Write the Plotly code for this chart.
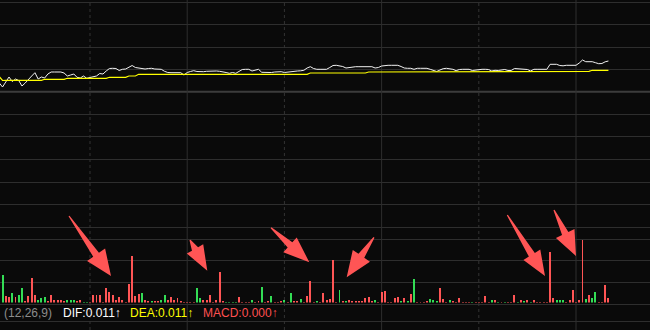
import plotly.graph_objects as go

W, H = 650, 330
PX_PER_MIN = 3.24
X_START = 2.22

# ---------------- data ----------------
price_start = 2
price = [
    10.087, 10.047, 10.097, 10.147, 10.102, 10.127, 10.112, 10.057,
    10.087, 10.127, 10.157, 10.190, 10.127, 10.147, 10.137, 10.177, 10.197, 10.197,
    10.200, 10.197, 10.187, 10.157, 10.167, 10.177, 10.144, 10.137, 10.157, 10.134,
    10.142, 10.147, 10.157, 10.182, 10.177, 10.207, 10.232, 10.234, 10.232, 10.212,
    10.224, 10.227, 10.242, 10.262, 10.242, 10.237, 10.232, 10.227, 10.232, 10.234,
    10.227, 10.224, 10.224, 10.204, 10.192, 10.190, 10.190, 10.190, 10.190, 10.167,
    10.192, 10.202, 10.210, 10.202, 10.200, 10.200, 10.204, 10.207, 10.207, 10.207,
    10.204, 10.200, 10.192, 10.184, 10.192, 10.184, 10.202, 10.222, 10.224, 10.224,
    10.207, 10.217, 10.224, 10.194, 10.192, 10.190, 10.192, 10.197, 10.200, 10.200,
    10.192, 10.197, 10.202, 10.207, 10.207, 10.209, 10.214, 10.237, 10.250, 10.232,
    10.224, 10.224, 10.224, 10.224, 10.242, 10.262, 10.264, 10.259, 10.252, 10.237,
    10.242, 10.250, 10.250, 10.250, 10.250, 10.250, 10.250, 10.250, 10.237, 10.242,
    10.257, 10.262, 10.264, 10.264, 10.264, 10.264, 10.252, 10.237, 10.234, 10.234,
    10.224, 10.234, 10.234, 10.234, 10.234, 10.224, 10.212, 10.202, 10.217, 10.230,
    10.234, 10.230, 10.224, 10.210, 10.222, 10.224, 10.224, 10.224, 10.212, 10.217,
    10.224, 10.224, 10.224, 10.222, 10.207, 10.214, 10.212, 10.217, 10.222, 10.212,
    10.212, 10.232, 10.230, 10.227, 10.227, 10.222, 10.207, 10.224, 10.224, 10.224,
    10.224, 10.224, 10.274, 10.274, 10.274, 10.262, 10.259, 10.264, 10.264, 10.264,
    10.264, 10.287, 10.317, 10.300, 10.300, 10.300, 10.290, 10.280, 10.282, 10.299,
    10.307,
]
avg_price = [
    10.150, 10.112, 10.114, 10.114, 10.114, 10.114, 10.114, 10.114,
    10.114, 10.114, 10.114, 10.114, 10.114, 10.114, 10.124, 10.124, 10.124, 10.124,
    10.124, 10.124, 10.124, 10.134, 10.134, 10.134, 10.134, 10.134, 10.134, 10.134,
    10.134, 10.134, 10.134, 10.134, 10.134, 10.134, 10.144, 10.144, 10.144, 10.144,
    10.144, 10.144, 10.157, 10.157, 10.157, 10.174, 10.174, 10.174, 10.174, 10.174,
    10.174, 10.174, 10.174, 10.174, 10.174, 10.174, 10.174, 10.174, 10.174, 10.174,
    10.174, 10.174, 10.174, 10.174, 10.174, 10.174, 10.174, 10.174, 10.174, 10.174,
    10.174, 10.174, 10.174, 10.174, 10.174, 10.174, 10.174, 10.174, 10.174, 10.174,
    10.174, 10.174, 10.174, 10.174, 10.174, 10.174, 10.174, 10.174, 10.174, 10.174,
    10.174, 10.174, 10.174, 10.174, 10.174, 10.174, 10.174, 10.174, 10.187, 10.187,
    10.187, 10.187, 10.187, 10.187, 10.187, 10.187, 10.187, 10.187, 10.187, 10.187,
    10.187, 10.187, 10.187, 10.187, 10.187, 10.187, 10.197, 10.197, 10.197, 10.197,
    10.197, 10.197, 10.197, 10.197, 10.197, 10.197, 10.197, 10.197, 10.197, 10.197,
    10.197, 10.197, 10.197, 10.197, 10.197, 10.197, 10.197, 10.197, 10.197, 10.197,
    10.197, 10.197, 10.197, 10.197, 10.197, 10.197, 10.197, 10.197, 10.197, 10.197,
    10.197, 10.197, 10.197, 10.197, 10.197, 10.197, 10.197, 10.197, 10.197, 10.197,
    10.197, 10.197, 10.197, 10.197, 10.197, 10.197, 10.197, 10.197, 10.197, 10.197,
    10.197, 10.197, 10.204, 10.204, 10.204, 10.204, 10.204, 10.204, 10.204, 10.204,
    10.204, 10.204, 10.204, 10.204, 10.204, 10.214, 10.214, 10.214, 10.214, 10.214,
    10.214,
]
prev_close = 10.000

vol_start = 3
volume = [
    2830, 730, 630, 970, 570, 800, 1530,
    130, 730, 2470, 800, 300, 470, 600, 230, 800, 330,
    330, 330, 130, 330, 330, 330, 130, 330, 70, 70,
    70, 800, 800, 800, 100, 1470, 1100, 770, 270, 600,
    270, 100, 1870, 4670, 670, 870, 1000, 270, 200, 200,
    200, 200, 270, 770, 270, 600, 270, 500, 200, 100,
    100, 100, 100, 1470, 500, 270, 270, 770, 100, 270,
    3070, 170, 70, 70, 70, 70, 630, 70, 70, 70,
    330, 70, 170, 1630, 70, 230, 730, 70, 70, 230,
    330, 70, 970, 170, 230, 430, 70, 730, 2170, 70,
    130, 70, 1030, 330, 430, 4330, 70, 1330, 170, 230,
    330, 230, 230, 170, 130, 500, 570, 230, 300, 70,
    1070, 1170, 70, 70, 500, 630, 230, 470, 230, 900,
    2430, 70, 70, 70, 230, 430, 330, 200, 1530, 370,
    70, 270, 170, 100, 470, 100, 100, 100, 100, 100,
    100, 70, 670, 100, 330, 330, 100, 100, 100, 100,
    100, 770, 100, 270, 170, 330, 100, 330, 100, 100,
    100, 100, 5100, 500, 270, 270, 330, 100, 330, 1330,
    100, 330, 6270, 370, 770, 470, 1100, 100, 50, 1770,
    500,
]
vol_dir = list(
    "GRRGRGG"
    "RRRRGGGRRR"
    "RRRGGGRRGG"
    "RRRRRRRRRR"
    "RRRRRRGRRG"
    "RRGGRRRRRR"
    "RRRGGRRRRR"
    "RRGGGGRRRR"
    "GRRGRRGRRR"
    "GRGRRGRRRR"
    "GRRRRRRGRG"
    "RRRRRRRRGR"
    "RRRRRRGRGR"
    "GRRRRGGGRR"
    "RGRRRRRRGR"
    "RRRRGRGRGR"
    "RRGRGRGRRR"
    "RRRRGGGRRR"
    "RRRGRGGRRR"
    "R"
)
half_hour_marks = [30, 60, 90, 120, 150, 180]
label_texts = ["(12,26,9)", "DIF:0.011\u2191", "DEA:0.011\u2191", "MACD:0.000\u2191"]

# ---------------- styles ----------------
BG = "#0a0a0a"
GRID = "#2e2e2e"
RED = "#ff5555"
GREEN = "#33dd55"
ARROW = "#ff5555"

price_x = list(range(price_start, price_start + len(price)))
vol_x = list(range(vol_start, vol_start + len(volume)))
vol_colors = [RED if d == "R" else GREEN for d in vol_dir]


def py(p):
    return 1 - p / H


def px(p):
    return p / W


fig = go.Figure()
fig.add_trace(go.Scatter(x=price_x, y=price, mode="lines",
                         line=dict(color="#f2f2f2", width=1), xaxis="x", yaxis="y",
                         hoverinfo="skip"))
fig.add_trace(go.Scatter(x=price_x, y=avg_price, mode="lines",
                         line=dict(color="#ffff00", width=1.2), xaxis="x", yaxis="y",
                         hoverinfo="skip"))
fig.add_trace(go.Bar(x=vol_x, y=volume, width=0.3,
                     marker=dict(color=vol_colors, line=dict(width=0)),
                     xaxis="x2", yaxis="y2", hoverinfo="skip"))

x_range = [X_START, X_START + W / PX_PER_MIN]
axis_off = dict(showgrid=False, zeroline=False, showticklabels=False,
                showline=False, ticks="")

shapes = []
# horizontal grid
for row in [2.5, 24.5, 47.5, 69.5, 114.5, 136.5, 159.5, 182.5,
            204.5, 227.5, 239.5, 260.5, 282.5, 304.5, 321.5]:
    shapes.append(dict(type="line", xref="paper", yref="paper", x0=0, x1=1,
                       y0=py(row), y1=py(row), line=dict(color=GRID, width=1),
                       layer="below"))
shapes.append(dict(type="line", xref="paper", yref="paper", x0=0, x1=1,
                   y0=py(91.8), y1=py(91.8), line=dict(color="#3c3c3c", width=2),
                   layer="below"))
# vertical grid
for k, m in enumerate(half_hour_marks):
    shapes.append(dict(type="line", xref="x", yref="paper", x0=m, x1=m,
                       y0=0, y1=1,
                       line=dict(color=GRID if k % 2 else "#333333", width=1,
                                 dash="solid" if k % 2 else "dot"),
                       layer="below"))


def arrow_path(tail, tip, head_len, head_half, shaft_half=3.5):
    tx, ty = tail
    hx, hy = tip
    dx, dy = hx - tx, hy - ty
    L = (dx * dx + dy * dy) ** 0.5
    ux, uy = dx / L, dy / L
    nx, ny = -uy, ux
    bx, by = hx - ux * head_len, hy - uy * head_len
    pts = [
        (tx + nx * 0.6, ty + ny * 0.6),
        (bx + nx * shaft_half, by + ny * shaft_half),
        (bx + nx * head_half, by + ny * head_half),
        (hx, hy),
        (bx - nx * head_half, by - ny * head_half),
        (bx - nx * shaft_half, by - ny * shaft_half),
        (tx - nx * 0.6, ty - ny * 0.6),
    ]
    return "M " + " L ".join(f"{px(a):.5f},{py(b):.5f}" for a, b in pts) + " Z"


arrows = [
    ((69, 216), (111, 276), 26, 11),
    ((190, 240), (207.3, 270.7), 25, 9.4),
    ((271, 227.7), (309.3, 262.3), 26, 10),
    ((374, 237.3), (346.7, 277.3), 26, 10.4),
    ((507.3, 215), (545, 276), 25, 9.9),
    ((554, 210), (576, 256), 25, 10.3),
]
for tail, tip, hl, hw in arrows:
    shapes.append(dict(type="path", xref="paper", yref="paper",
                       path=arrow_path(tail, tip, hl, hw),
                       fillcolor=ARROW, line=dict(width=0), layer="above"))

label_x = [2, 61, 128, 201]
label_colors = ["#8c8c8c", "#ffffff", "#ffff00", "#ff5050"]
annotations = []
for t, xx, c in zip(label_texts, label_x, label_colors):
    annotations.append(dict(text=t, x=px(xx), y=py(313), xref="paper", yref="paper",
                            xanchor="left", yanchor="middle", showarrow=False,
                            font=dict(family="Liberation Sans, Arial", size=12, color=c)))

fig.update_layout(
    width=W, height=H, margin=dict(l=0, r=0, t=0, b=0),
    paper_bgcolor=BG, plot_bgcolor=BG, showlegend=False, bargap=0,
    xaxis=dict(domain=[0, 1], range=x_range, **axis_off),
    xaxis2=dict(domain=[0, 1], range=x_range, anchor="y2", **axis_off),
    yaxis=dict(domain=[py(182.5), py(2.5)], range=[9.092, 10.892], **axis_off),
    yaxis2=dict(domain=[py(302.5), py(238.5)], range=[0, 6400], anchor="x2", **axis_off),
    shapes=shapes, annotations=annotations,
)
fig.write_html("out.html")
